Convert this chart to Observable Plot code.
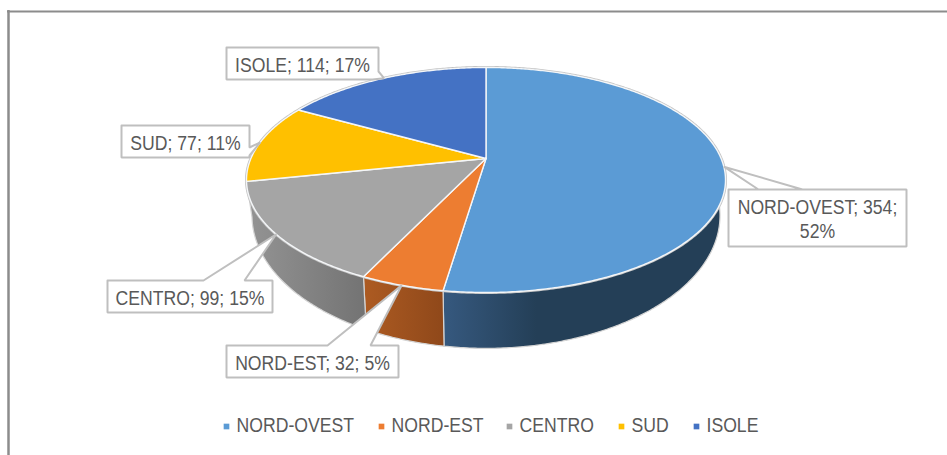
<!DOCTYPE html>
<html>
<head>
<meta charset="utf-8">
<script src="https://cdn.jsdelivr.net/npm/d3@7"></script>
<script src="https://cdn.jsdelivr.net/npm/@observablehq/plot@0.6"></script>
<style>html,body{margin:0;padding:0;background:#fff;overflow:hidden}svg{display:block}</style>
</head>
<body>
<div id="chart"></div>
<script>
// Data
const categories = ["NORD-OVEST", "NORD-EST", "CENTRO", "SUD", "ISOLE"];
const values = [354, 32, 99, 77, 114];
const percents = [52, 5, 15, 11, 17];
const colors = ["#5b9bd5", "#ed7d31", "#a5a5a5", "#ffc000", "#4472c4"];

// Styles / layout (not data)
const FONT = "'Liberation Sans',Arial,sans-serif";
const TEXT = "#595959", BOX = "#bfbfbf";
const FONT_SIZE = 21, NARROW = 0.84;
const W = 947, H = 455;
const top3d = {cx: 485.5, cy: 158, a: 235.1, b: 108.4, k: 0.191};
const bot3d = {cx: 485.5, cy: 189.6, a: 229.7, b: 128, k: 0.191};
const wallGrad = [
  ["#36597f", "#243f57", "#243f57", 0.33],
  ["#ad5b22", "#8f481a", "#8f481a", 1],
  ["#949494", "#737373", "#737373", 1]
];
const labelBoxes = [
  {x0: 728, y0: 189, x1: 906, y1: 246, base: [[802, 189], [758, 189]], side: "top"},
  {x0: 226, y0: 345, x1: 398, y1: 377, base: [[327, 345], [370, 345]], side: "top"},
  {x0: 107, y0: 280, x1: 272, y1: 312, base: [[203, 280], [244, 280]], side: "top"},
  {x0: 121, y0: 125, x1: 249, y1: 157, base: [[249, 147], [249, 155]], side: "right"},
  {x0: 226, y0: 47, x1: 378, y1: 79, base: [[378, 71], [372, 79]], side: "corner"}
];
const legendX = [226, 381, 509, 621, 696];
const legendY = 425;

// Geometry from the values
const total = d3.sum(values);
const cum = d3.cumsum(values);
const ang = v => v / total * 2 * Math.PI;
const bounds = values.map((v, i) => ({start: ang(cum[i] - v), end: ang(cum[i])}));
function proj(p, t) {
  const u = Math.sin(t), v = Math.cos(t), d = 1 + p.k * v;
  return [p.cx + p.a * u / d, p.cy - p.b * v / d];
}
function arc(p, t0, t1) {
  const n = Math.max(2, Math.ceil(Math.abs(t1 - t0) / 0.01));
  return d3.range(n + 1).map(i => proj(p, t0 + (t1 - t0) * i / n));
}
const topSlices = [], wallPolys = [];
categories.forEach((c, i) => {
  const {start, end} = bounds[i];
  const pts = [[top3d.cx, top3d.cy], ...arc(top3d, start, end), [top3d.cx, top3d.cy]];
  pts.forEach(q => topSlices.push({name: c, x: q[0], y: q[1]}));
});
// Visible walls: front half only
const FRONT0 = Math.PI / 2, SEAM = bounds[2].end;
const wallRanges = [
  [FRONT0, bounds[0].end], [bounds[1].start, bounds[1].end], [bounds[2].start, SEAM]
];
wallRanges.forEach((r, i) => {
  const t = arc(top3d, r[0], r[1]), b = arc(bot3d, r[1], r[0]);
  const pts = [...t, ...b, t[0]];
  wallPolys.push(pts.map(q => ({x: q[0], y: q[1]})));
});
const rimTop = arc(top3d, 0, 2 * Math.PI).map(q => ({x: q[0], y: q[1]}));

// Labels
const labelsText = categories.map((c, i) =>
  i === 0 ? `${c}; ${values[i]};\n${percents[i]}%` : `${c}; ${values[i]}; ${percents[i]}%`);
const calloutPts = labelBoxes.map((b, i) => {
  const tip = proj(top3d, (bounds[i].start + bounds[i].end) / 2);
  const [p, q] = b.base;
  let pts;
  if (b.side === "top") pts = [[b.x0, b.y0], p, tip, q, [b.x1, b.y0], [b.x1, b.y1], [b.x0, b.y1], [b.x0, b.y0]];
  else if (b.side === "right") pts = [[b.x0, b.y0], [b.x1, b.y0], p, tip, q, [b.x1, b.y1], [b.x0, b.y1], [b.x0, b.y0]];
  else pts = [[b.x0, b.y0], [b.x1, b.y0], p, tip, q, [b.x0, b.y1], [b.x0, b.y0]];
  return pts.map(a => ({label: categories[i], x: a[0], y: a[1]}));
}).flat();
const labelRows = labelBoxes.map((b, i) => ({x: (b.x0 + b.x1) / 2, y: (b.y0 + b.y1) / 2, text: labelsText[i]}));
const legendRows = categories.map((c, i) => ({name: c, x: legendX[i], tx: legendX[i] + 10}));

// Gradient definitions
const gradientDefs = () => {
  const defs = d3.create("svg:defs");
  wallGrad.forEach((g, i) => {
    const lg = defs.append("linearGradient").attr("id", "wall" + i)
      .attr("x1", 0).attr("x2", 1).attr("y1", 0).attr("y2", 0);
    lg.append("stop").attr("offset", 0).attr("stop-color", g[0]);
    lg.append("stop").attr("offset", g[3]).attr("stop-color", g[1]);
    lg.append("stop").attr("offset", 1).attr("stop-color", g[2]);
  });
  return defs.node();
};

const chart = Plot.plot({
  width: W, height: H, margin: 0,
  style: {background: "#fff", fontFamily: FONT},
  x: {domain: [0, W], range: [0, W], axis: null},
  y: {domain: [0, H], range: [0, H], axis: null},
  color: {domain: categories, range: colors},
  marks: [
    gradientDefs,
    // frame
    Plot.ruleY([11], {x1: 7, x2: W, stroke: "#8c8c8c", strokeWidth: 2}),
    Plot.ruleX([8], {y1: 10, y2: H, stroke: "#8c8c8c", strokeWidth: 2.5}),
    // walls
    ...wallPolys.map((w, i) => Plot.line(w, {
      x: "x", y: "y", fill: `url(#wall${i})`, stroke: "#d4d4d4", strokeWidth: 1.2
    })),
    // rim and top
    Plot.line(rimTop, {x: "x", y: "y", stroke: "#c4c4c4", strokeWidth: 3}),
    Plot.line(topSlices, {
      x: "x", y: "y", z: "name", fill: "name", stroke: "#f4f6f8", strokeWidth: 1.4, strokeLinejoin: "round"
    }),
    // callouts
    Plot.line(calloutPts, {
      x: "x", y: "y", z: "label", fill: "#fff", stroke: BOX, strokeWidth: 2, strokeLinejoin: "miter"
    }),
    Plot.text(labelRows, {
      x: "x", y: "y", text: "text", fill: TEXT, fontSize: FONT_SIZE, lineHeight: 1.19, textAnchor: "middle"
    }),
    // legend
    Plot.dot(legendRows, {x: "x", y: () => legendY + 1, fill: "name", symbol: "square", r: 3.2}),
    Plot.text(legendRows, {
      x: "tx", y: () => legendY, text: "name", fill: TEXT, fontSize: FONT_SIZE, textAnchor: "start"
    })
  ]
});
// No narrow face is installed: condense the real text horizontally.
chart.querySelectorAll("text").forEach(t => {
  const tr = t.getAttribute("transform") || "";
  t.setAttribute("transform", `${tr} scale(${NARROW} 1)`);
});
document.getElementById("chart").append(chart);
</script>
</body>
</html>
